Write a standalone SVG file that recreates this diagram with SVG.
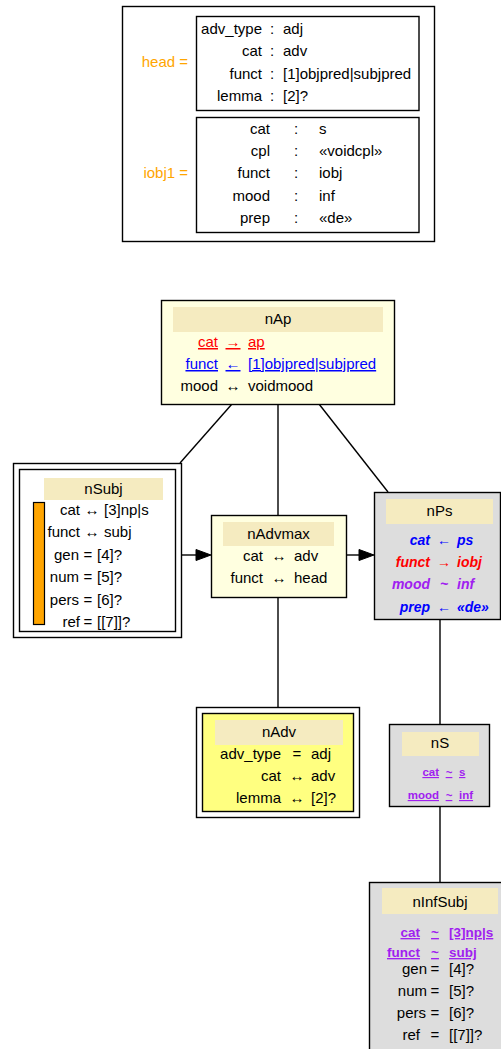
<svg xmlns="http://www.w3.org/2000/svg" width="501" height="1049" viewBox="0 0 501 1049">
<style>
text{font-family:"Liberation Sans",Arial,sans-serif;font-size:15px;fill:#000}
.e{text-anchor:end}.m{text-anchor:middle}
.box{fill:none;stroke:#000;stroke-width:1.4}
.hd{fill:#F5EBC0;stroke:none}
.ly{fill:#FFFFE0;stroke:#000;stroke-width:1.4}
.gr{fill:#DDDDDD;stroke:#000;stroke-width:1.4}
.or{fill:#FFA500}
.u{text-decoration:underline}
.red{fill:#FF0000}.blue{fill:#0000FF}.pur{fill:#A020F0}
.bi{font-weight:bold;font-style:italic;font-size:14px}
.bs{font-weight:bold;font-size:11.5px}
.bm{font-weight:bold;font-size:13.5px}
.edge{stroke:#000;stroke-width:1.4;fill:none}
</style>
<g id="avm">
<rect class="box" x="122.5" y="6.5" width="312" height="235"/>
<rect class="box" x="196.5" y="16.5" width="222.5" height="94"/>
<rect class="box" x="196.5" y="117.5" width="222.5" height="115"/>
<text class="e or" x="188" y="67">head =</text>
<text class="e" x="262" y="34">adv_type</text><text class="m" x="272" y="34">:</text><text x="283" y="34">adj</text>
<text class="e" x="262" y="56">cat</text><text class="m" x="272" y="56">:</text><text x="283" y="56">adv</text>
<text class="e" x="262" y="78.5">funct</text><text class="m" x="272" y="78.5">:</text><text x="283" y="78.5">[1]objpred|subjpred</text>
<text class="e" x="262" y="101">lemma</text><text class="m" x="272" y="101">:</text><text x="283" y="101">[2]?</text>
<text class="e or" x="188" y="178">iobj1 =</text>
<text class="e" x="270" y="134">cat</text><text class="m" x="296" y="134">:</text><text x="319" y="134">s</text>
<text class="e" x="270" y="156">cpl</text><text class="m" x="296" y="156">:</text><text x="319" y="156">«voidcpl»</text>
<text class="e" x="270" y="178">funct</text><text class="m" x="296" y="178">:</text><text x="319" y="178">iobj</text>
<text class="e" x="270" y="201">mood</text><text class="m" x="296" y="201">:</text><text x="319" y="201">inf</text>
<text class="e" x="270" y="223">prep</text><text class="m" x="296" y="223">:</text><text x="319" y="223">«de»</text>
</g>
<g id="edges">
<line class="edge" x1="232" y1="404" x2="180" y2="463"/>
<line class="edge" x1="278" y1="404" x2="278" y2="515"/>
<line class="edge" x1="319" y1="404" x2="388" y2="492"/>
<line class="edge" x1="181" y1="555" x2="198" y2="555"/>
<polygon points="211,555 196,549.5 196,560.5" fill="#000" stroke="#000"/>
<line class="edge" x1="346" y1="555" x2="361" y2="555"/>
<polygon points="374,555 359,549.5 359,560.5" fill="#000" stroke="#000"/>
<line class="edge" x1="278" y1="597" x2="278" y2="707"/>
<line class="edge" x1="440" y1="619" x2="440" y2="724"/>
<line class="edge" x1="440" y1="806" x2="440" y2="882"/>
</g>
<g id="nAp">
<rect class="ly" x="161.5" y="300.5" width="233" height="104"/>
<rect class="hd" x="173" y="307" width="210" height="25"/>
<text class="m" x="278" y="324">nAp</text>
<text class="e red u" x="218" y="347">cat</text><text class="m red u" x="233" y="347">→</text><text class="red u" x="248" y="347">ap</text>
<text class="e blue u" x="218" y="369">funct</text><text class="m blue u" x="233" y="369">←</text><text class="blue u" x="248" y="369">[1]objpred|subjpred</text>
<text class="e" x="218" y="391">mood</text><text class="m" x="233" y="391">↔</text><text x="248" y="391">voidmood</text>
</g>
<g id="nSubj">
<rect class="box" x="13.5" y="463.5" width="168" height="174" fill="#fff"/>
<rect class="box" x="19.5" y="469.5" width="156" height="162"/>
<rect class="hd" x="44" y="478" width="119" height="22"/>
<rect x="33.5" y="502.5" width="11" height="122" fill="#FFA500" stroke="#000" stroke-width="1.2"/>
<text class="m" x="103.5" y="494">nSubj</text>
<text class="e" x="80" y="515">cat</text><text class="m" x="92" y="515">↔</text><text x="104" y="515">[3]np|s</text>
<text class="e" x="80" y="537">funct</text><text class="m" x="92" y="537">↔</text><text x="104" y="537">subj</text>
<text class="e" x="79" y="560">gen</text><text class="m" x="88" y="560">=</text><text x="97" y="560">[4]?</text>
<text class="e" x="79" y="582">num</text><text class="m" x="88" y="582">=</text><text x="97" y="582">[5]?</text>
<text class="e" x="79" y="605">pers</text><text class="m" x="88" y="605">=</text><text x="97" y="605">[6]?</text>
<text class="e" x="80" y="627">ref</text><text class="m" x="88" y="627">=</text><text x="97" y="627">[[7]]?</text>
</g>
<g id="nAdvmax">
<rect class="ly" x="211.5" y="515.5" width="135" height="82"/>
<rect class="hd" x="223" y="522" width="111" height="24"/>
<text class="m" x="278.5" y="539">nAdvmax</text>
<text class="e" x="263" y="561">cat</text><text class="m" x="279" y="561">↔</text><text x="294" y="561">adv</text>
<text class="e" x="263" y="583">funct</text><text class="m" x="279" y="583">↔</text><text x="294" y="583">head</text>
</g>
<g id="nPs">
<rect class="gr" x="374.5" y="492.5" width="126" height="127"/>
<rect class="hd" x="386" y="499" width="107" height="25"/>
<text class="m" x="439.5" y="516">nPs</text>
<text class="e bi blue" x="430" y="545">cat</text><text class="m bi blue" x="444" y="545">←</text><text class="bi blue" x="457" y="545">ps</text>
<text class="e bi red" x="430" y="567">funct</text><text class="m bi red" x="444" y="567">→</text><text class="bi red" x="457" y="567">iobj</text>
<text class="e bi pur" x="430" y="589">mood</text><text class="m bi pur" x="444" y="589">~</text><text class="bi pur" x="457" y="589">inf</text>
<text class="e bi blue" x="430" y="612">prep</text><text class="m bi blue" x="444" y="612">←</text><text class="bi blue" x="457" y="612">«de»</text>
</g>
<g id="nAdv">
<rect class="box" x="196.5" y="707.5" width="163" height="110" fill="#fff"/>
<rect x="202.5" y="713.5" width="151" height="98" fill="#FFFF80" stroke="#000" stroke-width="1.4"/>
<rect class="hd" x="215" y="720" width="128" height="25"/>
<text class="m" x="279" y="737">nAdv</text>
<text class="e" x="281" y="759">adv_type</text><text class="m" x="297" y="759">=</text><text x="311" y="759">adj</text>
<text class="e" x="281" y="781">cat</text><text class="m" x="297" y="781">↔</text><text x="311" y="781">adv</text>
<text class="e" x="281" y="803">lemma</text><text class="m" x="297" y="803">↔</text><text x="311" y="803">[2]?</text>
</g>
<g id="nS">
<rect class="gr" x="389.5" y="724.5" width="100" height="82"/>
<rect class="hd" x="402" y="732" width="77" height="24"/>
<text class="m" x="440" y="748">nS</text>
<text class="e bs pur u" x="439" y="776">cat</text><text class="m bs pur u" x="449" y="776">~</text><text class="bs pur u" x="459" y="776">s</text>
<text class="e bs pur u" x="439" y="799">mood</text><text class="m bs pur u" x="449" y="799">~</text><text class="bs pur u" x="459" y="799">inf</text>
</g>
<g id="nInfSubj">
<rect class="gr" x="369.5" y="882.5" width="140" height="180"/>
<rect class="hd" x="382" y="888" width="116" height="26"/>
<text class="m" x="440" y="907">nInfSubj</text>
<text class="e bm pur u" x="420" y="937">cat</text><text class="m bm pur u" x="435" y="937">~</text><text class="bm pur u" x="449" y="937">[3]np|s</text>
<text class="e bm pur u" x="420" y="957">funct</text><text class="m bm pur u" x="435" y="957">~</text><text class="bm pur u" x="449" y="957">subj</text>
<text class="e" x="427" y="974">gen</text><text class="m" x="435" y="974">=</text><text x="449" y="974">[4]?</text>
<text class="e" x="427" y="996">num</text><text class="m" x="435" y="996">=</text><text x="449" y="996">[5]?</text>
<text class="e" x="426" y="1018">pers</text><text class="m" x="435" y="1018">=</text><text x="449" y="1018">[6]?</text>
<text class="e" x="420" y="1040">ref</text><text class="m" x="435" y="1040">=</text><text x="449" y="1040">[[7]]?</text>
</g>
</svg>
